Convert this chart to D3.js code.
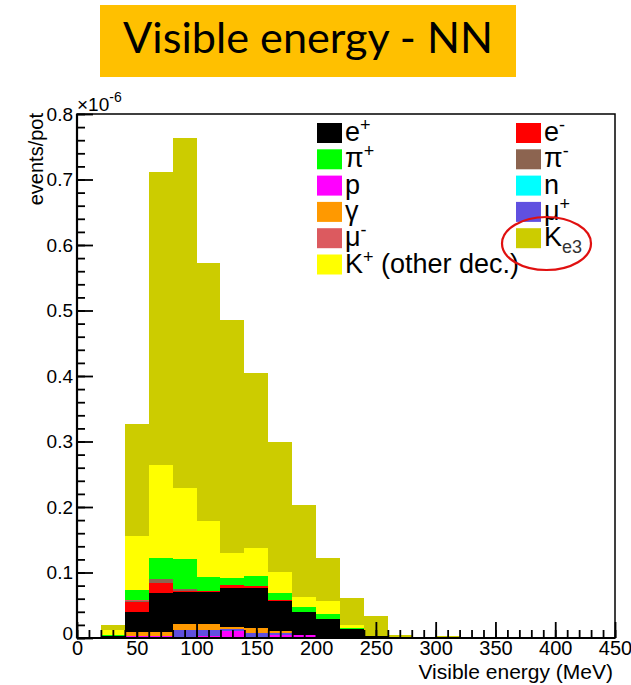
<!DOCTYPE html>
<html><head><meta charset="utf-8">
<script src="https://cdn.jsdelivr.net/npm/d3@7"></script>
<style>body{margin:0;background:#fff}svg{display:block}</style>
</head><body><svg id="chart" width="631" height="685"></svg>
<script>
// Lower edges of the 20 MeV energy bins (MeV)
const binLow = [20, 40, 60, 80, 100, 120, 140, 160, 180, 200, 220, 240, 260, 280, 300, 320, 340, 360, 380, 400, 420, 440];
const binWidth = 20;

// Stacked contributions per bin, in units of 1e-6 events/pot (bottom of the stack first)
const proton  = [0, 0.0035, 0.0035, 0.002, 0.003, 0.011, 0.001, 0.004, 0.004, 0.0015, 0, 0, 0, 0, 0, 0, 0, 0, 0, 0, 0, 0];
const muPlus  = [0, 0, 0, 0.010, 0.009, 0.002, 0.006, 0.004, 0, 0, 0, 0, 0, 0, 0, 0, 0, 0, 0, 0, 0, 0];
const gamma   = [0, 0.0052, 0.0052, 0.009, 0.009, 0.0043, 0.0078, 0.003, 0, 0, 0, 0.001, 0, 0, 0, 0, 0, 0, 0, 0, 0, 0];
const ePlus   = [0.0025, 0.0313, 0.0603, 0.0497, 0.0497, 0.0585, 0.062, 0.046, 0.036, 0.027, 0.0135, 0.0015, 0, 0, 0, 0, 0, 0, 0, 0, 0, 0];
const eMinus  = [0, 0.0155, 0.0155, 0.001, 0.0015, 0.0052, 0.0026, 0.001, 0, 0, 0, 0, 0, 0, 0, 0, 0, 0, 0, 0, 0, 0];
const piMinus = [0, 0.001, 0.006, 0.003, 0, 0, 0, 0, 0, 0, 0, 0, 0, 0, 0, 0, 0, 0, 0, 0, 0, 0];
const muMinus = [0, 0.001, 0, 0, 0, 0, 0, 0, 0, 0, 0, 0, 0, 0, 0, 0, 0, 0, 0, 0, 0, 0];
const piPlus  = [0.0015, 0.0155, 0.0321, 0.0453, 0.0214, 0.011, 0.0156, 0.011, 0.008, 0.0081, 0.0015, 0, 0.001, 0, 0.001, 0, 0, 0, 0, 0, 0, 0.0015];
const neutron = [0, 0, 0, 0, 0, 0, 0, 0, 0, 0, 0, 0, 0, 0, 0, 0, 0, 0, 0, 0, 0, 0];
const kOther  = [0.0085, 0.082, 0.1414, 0.1085, 0.0844, 0.038, 0.043, 0.0313, 0.014, 0.0204, 0.0045, 0, 0, 0, 0, 0, 0, 0, 0, 0, 0, 0];
const ke3     = [0.0077, 0.171, 0.448, 0.5355, 0.394, 0.3555, 0.266, 0.1997, 0.141, 0.065, 0.0421, 0.0315, 0.003, 0, 0.002, 0, 0, 0, 0, 0, 0, 0];

// Axis ticks
const xMajorTicks = [0, 50, 100, 150, 200, 250, 300, 350, 400, 450];
const yMajorTicks = [0, 0.1, 0.2, 0.3, 0.4, 0.5, 0.6, 0.7, 0.8];

// Component definitions: stacking order, colours and legend labels
const components = [
  {key: "p",    values: proton,  color: "#ff00ff", label: [["p", ""]]},
  {key: "mu+",  values: muPlus,  color: "#6050e0", label: [["μ", ""], ["+", "sup"]]},
  {key: "g",    values: gamma,   color: "#ff9900", label: [["γ", ""]]},
  {key: "e+",   values: ePlus,   color: "#000000", label: [["e", ""], ["+", "sup"]]},
  {key: "e-",   values: eMinus,  color: "#ff0000", label: [["e", ""], ["-", "sup"]]},
  {key: "pi-",  values: piMinus, color: "#8c6450", label: [["π", ""], ["-", "sup"]]},
  {key: "mu-",  values: muMinus, color: "#dc5a5f", label: [["μ", ""], ["-", "sup"]]},
  {key: "pi+",  values: piPlus,  color: "#00ff00", label: [["π", ""], ["+", "sup"]]},
  {key: "n",    values: neutron, color: "#00ffff", label: [["n", ""]]},
  {key: "K+",   values: kOther,  color: "#ffff00", label: [["K", ""], ["+", "sup"], [" (other dec.)", ""]]},
  {key: "Ke3",  values: ke3,     color: "#cccc00", label: [["K", ""], ["e3", "sub"]]}
];
const legendLeft  = ["e+", "pi+", "p", "g", "mu-", "K+"];
const legendRight = ["e-", "pi-", "n", "mu+", "Ke3"];

const svg = d3.select("#chart");
const FONT = "'Liberation Sans', Arial, Helvetica, sans-serif";

// Title banner
svg.append("rect").attr("x", 100).attr("y", 5).attr("width", 416).attr("height", 72).attr("fill", "#ffc000");
const title = svg.append("text").attr("x", 308).attr("y", 53).attr("text-anchor", "middle")
  .attr("font-family", "Lato, 'Open Sans', sans-serif").attr("font-size", 40).attr("fill", "#000")
  .text("Visible energy - NN");
const tw = title.node().getComputedTextLength();
title.attr("font-size", 40 * 370 / tw);

// Plot frame
const plotL = 77, plotR = 615, plotT = 114, plotB = 638;
const x = d3.scaleLinear().domain([0, 450]).range([plotL, plotR]);
const y = d3.scaleLinear().domain([0, 0.8]).range([plotB, plotT]);

svg.append("clipPath").attr("id", "plotClip").append("rect")
  .attr("x", plotL).attr("y", plotT).attr("width", plotR - plotL).attr("height", plotB - plotT);

// Stacked histogram
const table = binLow.map((b, i) => {
  const row = {low: b};
  components.forEach(c => row[c.key] = c.values[i]);
  return row;
});
const stacked = d3.stack().keys(components.map(c => c.key))(table);

const bars = svg.append("g").attr("clip-path", "url(#plotClip)");
stacked.forEach((layer, li) => {
  bars.append("g").attr("fill", components[li].color)
    .selectAll("rect").data(layer.filter(d => d[1] - d[0] > 0)).join("rect")
    .attr("x", d => x(d.data.low))
    .attr("width", d => x(d.data.low + binWidth) - x(d.data.low))
    .attr("y", d => y(d[1]))
    .attr("height", d => y(d[0]) - y(d[1]))
    .attr("shape-rendering", "crispEdges");
});

// Axes with inward ticks
const xMinor = d3.range(0, 451, 10);
const yMinor = d3.range(0, 0.8001, 0.02);

const gx = svg.append("g").attr("transform", `translate(0,${plotB})`);
gx.call(d3.axisBottom(x).tickValues(xMinor).tickSizeInner(-8).tickSizeOuter(0).tickFormat(""));
const gxMaj = svg.append("g").attr("transform", `translate(0,${plotB})`)
  .call(d3.axisBottom(x).tickValues(xMajorTicks).tickSizeInner(-16).tickSizeOuter(0).tickPadding(3).tickFormat(d3.format("d")));

const gy = svg.append("g").attr("transform", `translate(${plotL},0)`);
gy.call(d3.axisLeft(y).tickValues(yMinor).tickSizeInner(-8).tickSizeOuter(0).tickFormat(""));
const gyMaj = svg.append("g").attr("transform", `translate(${plotL},0)`)
  .call(d3.axisLeft(y).tickValues(yMajorTicks).tickSizeInner(-16).tickSizeOuter(0).tickPadding(4)
    .tickFormat(d => d === 0 ? "0" : d.toFixed(1)));

svg.selectAll(".domain").remove();
svg.selectAll(".tick line").attr("stroke", "#000").attr("stroke-width", 1.8);
gxMaj.selectAll("text").attr("font-family", FONT).attr("font-size", 20).attr("fill", "#000");
gyMaj.selectAll("text").attr("font-family", FONT).attr("font-size", 19).attr("fill", "#000");
// the zero of the value axis sits slightly above the corner
gyMaj.selectAll(".tick text").filter(d => d === 0).attr("dy", "0.1em");

svg.append("rect").attr("x", plotL).attr("y", plotT).attr("width", plotR - plotL).attr("height", plotB - plotT)
  .attr("fill", "none").attr("stroke", "#000").attr("stroke-width", 1.5);
svg.append("line").attr("x1", plotL).attr("x2", plotL).attr("y1", plotT).attr("y2", plotB)
  .attr("stroke", "#000").attr("stroke-width", 2.2);
svg.append("line").attr("x1", plotL).attr("x2", plotR).attr("y1", plotB).attr("y2", plotB)
  .attr("stroke", "#000").attr("stroke-width", 2.2);

// Exponent marker and axis titles
const expo = svg.append("text").attr("x", 77).attr("y", 111).attr("font-family", FONT).attr("font-size", 19).attr("fill", "#000");
expo.append("tspan").text("×10");
expo.append("tspan").attr("dy", -9).attr("font-size", 14).text("-6");

svg.append("text").attr("transform", "translate(43,113) rotate(-90)").attr("text-anchor", "end")
  .attr("font-family", FONT).attr("font-size", 20).attr("fill", "#000").text("events/pot");
svg.append("text").attr("x", 613).attr("y", 679).attr("text-anchor", "end")
  .attr("font-family", FONT).attr("font-size", 21).attr("fill", "#000").text("Visible energy (MeV)");

// Legend
const byKey = Object.fromEntries(components.map(c => [c.key, c]));
function legendColumn(keys, sx, tx) {
  keys.forEach((k, i) => {
    const c = byKey[k];
    const rowTop = 123 + i * 26.3;
    svg.append("rect").attr("x", sx).attr("y", rowTop).attr("width", 25).attr("height", 20).attr("fill", c.color);
    const t = svg.append("text").attr("x", tx).attr("y", rowTop + 18)
      .attr("font-family", FONT).attr("font-size", 27).attr("fill", "#000");
    let shift = 0;
    c.label.forEach(([s, kind]) => {
      const ts = t.append("tspan").text(s);
      if (kind === "sup") { ts.attr("font-size", 18).attr("dy", -10 - shift); shift = -10; }
      else if (kind === "sub") { ts.attr("font-size", 18).attr("dy", 7 - shift).attr("fill", "#333"); shift = 7; }
      else { ts.attr("dy", -shift); shift = 0; }
    });
  });
}
legendColumn(legendLeft, 317, 345);
legendColumn(legendRight, 516, 544);

// Highlight ring around the Ke3 entry
svg.append("ellipse").attr("cx", 546.5).attr("cy", 243.5).attr("rx", 44.5).attr("ry", 26.5)
  .attr("fill", "none").attr("stroke", "#e01010").attr("stroke-width", 2.2);
</script>
</body></html>
